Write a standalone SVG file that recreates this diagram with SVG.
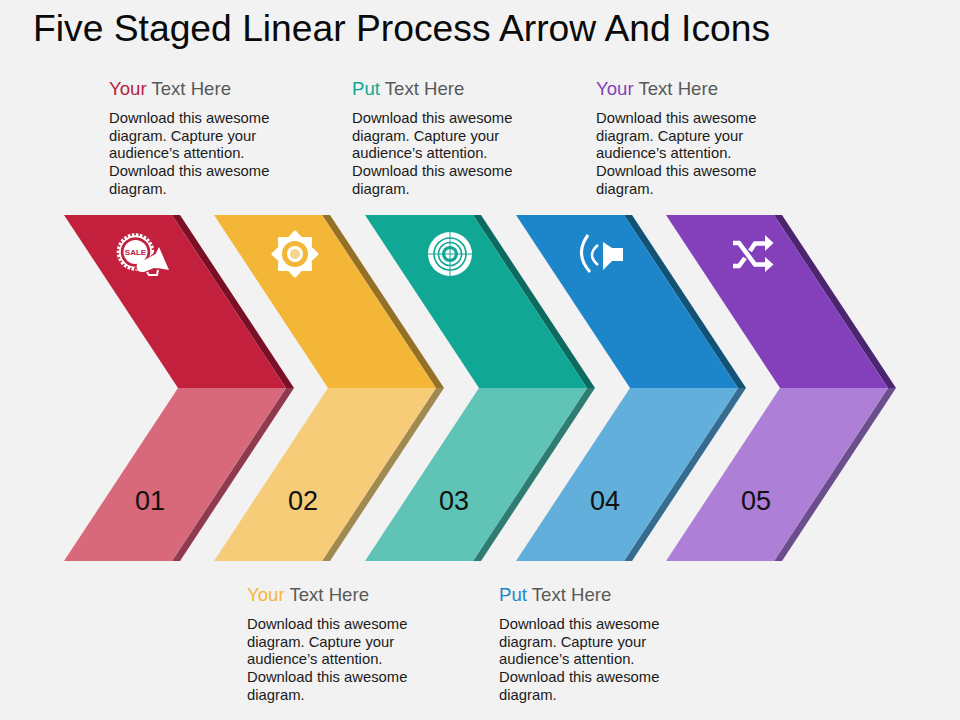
<svg xmlns="http://www.w3.org/2000/svg" width="960" height="720" viewBox="0 0 960 720">
<style>
text{font-family:"Liberation Sans",Arial,sans-serif}
.title{font-size:37.25px;fill:#0a0a0a}
.head{font-size:18.6px;fill:#595959}
.body{font-size:14.8px;fill:#1a1a1a}
.num{font-size:27px;fill:#111;text-anchor:middle}
.w{fill:#fff}
.ws{fill:none;stroke:#fff}
</style>
<defs>
<g id="text-body"><text class="body" y="0">Download this awesome</text><text class="body" y="18">diagram. Capture your</text><text class="body" y="35">audience’s attention.</text><text class="body" y="53">Download this awesome</text><text class="body" y="71">diagram.</text></g>
<path id="top-side" d="M108 0H116L230 173H222Z"/>
<path id="top-face" d="M0 0H108L222 173H114Z"/>
<path id="bot-side" d="M222 173H230L116 346H108Z"/>
<path id="bot-face" d="M114 173H222L108 346H0Z"/>
</defs>
<rect width="960" height="720" fill="#f2f2f2"/>
<text class="title" x="33" y="41">Five Staged Linear Process Arrow And Icons</text>
<g id="connectors"/>
<g id="stage-1" transform="translate(64 215)">
<use href="#top-side" fill="#7a1026"/><use href="#top-face" fill="#c2203d"/><use href="#bot-side" fill="#8f3a50"/><use href="#bot-face" fill="#d7697b"/>
<text class="num" x="86" y="295">01</text>
<g transform="translate(-64 -215)">
<circle cx="135.500" cy="252" r="17" fill="none" stroke="#fff" stroke-width="3.600" stroke-dasharray="2.500 1.500"/>
<circle cx="135.500" cy="252" r="15.600" fill="none" stroke="#fff" stroke-width="1.600"/>
<circle cx="135.500" cy="252" r="12" class="w"/>
<text x="135.500" y="255" font-size="8" font-weight="700" fill="#c2203d" text-anchor="middle">SALE</text>
<path d="M134 268L153 254L157 244L171 271L160 271L146 276Z" fill="#c2203d"/>
<path class="w" d="M137 264Q135 273 144 272L154 268L160 268.500L169 270L159 247L155.500 254Z"/>
<path class="ws" stroke-width="2" d="M147 272L149 275H157L158 270"/>
</g>
</g>
<g id="stage-2" transform="translate(214 215)">
<use href="#top-side" fill="#957127"/><use href="#top-face" fill="#f4b637"/><use href="#bot-side" fill="#a08a52"/><use href="#bot-face" fill="#f6cc78"/>
<text class="num" x="89" y="295">02</text>
<g transform="translate(-214 -215)">
<path class="w" stroke="#fff" stroke-width="3" stroke-linejoin="round" d="M295 232L301.300 238.800L310.600 238.400L310.200 247.700L317 254L310.200 260.300L310.600 269.600L301.300 269.200L295 276L288.700 269.200L279.400 269.600L279.800 260.300L273 254L279.800 247.700L279.400 238.400L288.700 238.800Z"/>
<circle cx="295" cy="254" r="13" fill="#f4b637"/><circle cx="295" cy="254" r="8" class="w"/><circle cx="295" cy="254" r="5" fill="#f6d48c"/>
</g>
</g>
<g id="stage-3" transform="translate(365 215)">
<use href="#top-side" fill="#0d6a60"/><use href="#top-face" fill="#11a795"/><use href="#bot-side" fill="#2f7c73"/><use href="#bot-face" fill="#5fc3b5"/>
<text class="num" x="89" y="295">03</text>
<g transform="translate(-365 -215)">
<circle cx="450" cy="254" r="22" class="w"/>
<circle cx="450" cy="254" r="16" fill="none" stroke="#11a795" stroke-width="1.600"/>
<circle cx="450" cy="254" r="11.500" fill="none" stroke="#11a795" stroke-width="1.600"/>
<circle cx="450" cy="254" r="8" fill="#11a795"/>
<circle cx="450" cy="254" r="4.800" class="w"/>
<path d="M450 232V276M428 254H472" fill="none" stroke="#11a795" stroke-width="1"/>
</g>
</g>
<g id="stage-4" transform="translate(516 215)">
<use href="#top-side" fill="#125277"/><use href="#top-face" fill="#1d86cb"/><use href="#bot-side" fill="#366c8f"/><use href="#bot-face" fill="#62afdb"/>
<text class="num" x="89" y="295">04</text>
<g transform="translate(-516 -215)">
<path class="w" d="M603 242L612 248H623V261H612L603 270Z"/>
<path class="ws" stroke-width="3" d="M588 235Q574 254 590 272"/>
<path class="ws" stroke-width="2.600" d="M598 245Q586 255 598 265"/>
</g>
</g>
<g id="stage-5" transform="translate(666 215)">
<use href="#top-side" fill="#4c2570"/><use href="#top-face" fill="#8440bb"/><use href="#bot-side" fill="#6b4e8c"/><use href="#bot-face" fill="#ae7fd6"/>
<text class="num" x="90" y="295">05</text>
<g transform="translate(-666 -215)" >
<path class="ws" stroke-width="4.500" d="M733 243H739L755 264.500H766M733 266H739L745 258M750 251L755 243.500H766"/>
<path class="w" d="M765 235L773.500 243L765 251ZM765 257L773.500 264.500L765 272Z"/>
</g>
</g>
<g id="label-1"><text class="head" x="109" y="95"><tspan fill="#b5223f">Your</tspan> Text Here</text><use href="#text-body" x="109" y="123"/></g>
<g id="label-2"><text class="head" x="352" y="95"><tspan fill="#11a795">Put</tspan> Text Here</text><use href="#text-body" x="352" y="123"/></g>
<g id="label-3"><text class="head" x="596" y="95"><tspan fill="#8440bb">Your</tspan> Text Here</text><use href="#text-body" x="596" y="123"/></g>
<g id="label-4"><text class="head" x="247" y="601"><tspan fill="#f4b637">Your</tspan> Text Here</text><use href="#text-body" x="247" y="629"/></g>
<g id="label-5"><text class="head" x="499" y="601"><tspan fill="#1d86cb">Put</tspan> Text Here</text><use href="#text-body" x="499" y="629"/></g>
</svg>
